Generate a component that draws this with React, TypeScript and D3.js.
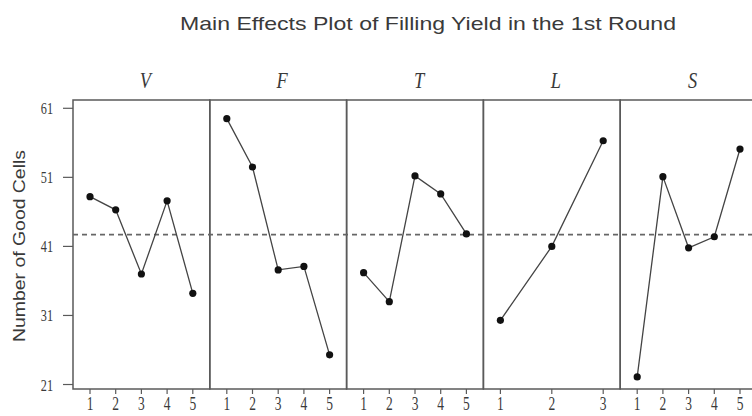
import React from 'react';
import * as d3 from 'd3';

// factors and their level means
const factors = ['V', 'F', 'T', 'L', 'S'];
const vMeans = [48.2, 46.3, 37.0, 47.6, 34.2];
const fMeans = [59.5, 52.5, 37.6, 38.1, 25.3];
const tMeans = [37.2, 33.0, 51.2, 48.6, 42.8];
const lMeans = [30.3, 41.0, 56.3];
const sMeans = [22.1, 51.1, 40.8, 42.4, 55.1];
const grandMean = 42.7;
const yTicks = [21, 31, 41, 51, 61];

const seriesByFactor = [vMeans, fMeans, tMeans, lMeans, sMeans];

const App = () => {
    const width = 752;
    const height = 416;
    const frameLeft = 73;
    const frameRight = 757;
    const frameTop = 100;
    const frameBottom = 389;

    // y scale: ticks 21..61, frame a bit wider than the tick range
    const yScale = d3.scaleLinear().domain([20.35, 62.2]).range([frameBottom, frameTop]);

    // one band per factor panel
    const panelScale = d3.scaleBand().domain(factors).range([frameLeft, frameRight]).paddingInner(0);

    const ink = '#3a3a3a';
    const frameColor = '#5a5a5a';
    const serif = "'Liberation Serif', 'DejaVu Serif', serif";
    const narrow = "'Liberation Sans Narrow', 'Arial Narrow', 'Liberation Sans', sans-serif";

    const panelX = (f, n) => {
        const x0 = panelScale(f);
        const x1 = x0 + panelScale.bandwidth();
        return d3.scaleLinear().domain([1, n]).range([x0 + 17, x1 - 17]);
    };

    return (
        <div style={{ position: 'absolute', left: 0, top: 0 }}>
            <svg width={width} height={height} style={{ display: 'block', background: '#fff' }}>
                {/* title */}
                <text
                    x={428}
                    y={30}
                    textAnchor="middle"
                    fontFamily={narrow}
                    fontSize={19}
                    fill="#3a3a3a"
                    textLength={496}
                    lengthAdjust="spacingAndGlyphs"
                >
                    Main Effects Plot of Filling Yield in the 1st Round
                </text>

                {/* y axis label */}
                <text
                    transform={`translate(25, 246) rotate(-90)`}
                    textAnchor="middle"
                    fontFamily={narrow}
                    fontSize={16}
                    fill="#3a3a3a"
                    textLength={192}
                    lengthAdjust="spacingAndGlyphs"
                >
                    Number of Good Cells
                </text>

                {/* y ticks */}
                {yTicks.map((t) => (
                    <g key={`yt-${t}`}>
                        <line x1={frameLeft - 10} x2={frameLeft} y1={yScale(t)} y2={yScale(t)} stroke={frameColor} strokeWidth={1.2} />
                        <text
                            transform={`translate(${frameLeft - 20}, ${yScale(t) + 6}) scale(0.72, 1)`}
                            textAnchor="end"
                            fontFamily={serif}
                            fontSize={17}
                            fill={ink}
                        >
                            {t}
                        </text>
                    </g>
                ))}

                {/* panels */}
                {factors.map((f, i) => {
                    const x0 = panelScale(f);
                    const x1 = x0 + panelScale.bandwidth();
                    const n = seriesByFactor[i].length;
                    const xScale = panelX(f, n);
                    const levels = d3.range(1, n + 1);
                    return (
                        <g key={`panel-${f}`}>
                            <rect x={x0} y={frameTop} width={x1 - x0} height={frameBottom - frameTop} fill="none" stroke={frameColor} strokeWidth={1.5} />
                            <text
                                transform={`translate(${(x0 + x1) / 2 + 4}, 88) scale(0.8, 1)`}
                                textAnchor="middle"
                                fontFamily={serif}
                                fontStyle="italic"
                                fontSize={23}
                                fill={ink}
                            >
                                {f}
                            </text>
                            {levels.map((lv) => (
                                <g key={`xt-${f}-${lv}`}>
                                    <line x1={xScale(lv)} x2={xScale(lv)} y1={frameBottom} y2={frameBottom + 5} stroke={frameColor} strokeWidth={1.2} />
                                    <text
                                        transform={`translate(${xScale(lv)}, 410) scale(0.75, 1)`}
                                        textAnchor="middle"
                                        fontFamily={serif}
                                        fontSize={18}
                                        fill={ink}
                                    >
                                        {lv}
                                    </text>
                                </g>
                            ))}
                        </g>
                    );
                })}

                {/* grand mean reference line */}
                <line
                    x1={frameLeft}
                    x2={width}
                    y1={yScale(grandMean)}
                    y2={yScale(grandMean)}
                    stroke="#666"
                    strokeWidth={1.6}
                    strokeDasharray="5,4"
                />

                {/* main effect lines and points */}
                {factors.map((f, i) => {
                    const values = seriesByFactor[i];
                    const xScale = panelX(f, values.length);
                    const pts = values.map((v, j) => [j + 1, v]);
                    const path = d3
                        .line()
                        .x((d) => xScale(d[0]))
                        .y((d) => yScale(d[1]))(pts);
                    return (
                        <g key={`series-${f}`}>
                            <path d={path} fill="none" stroke="#444" strokeWidth={1.3} />
                            {pts.map((p, j) => (
                                <circle key={`pt-${f}-${j}`} cx={xScale(p[0])} cy={yScale(p[1])} r={3.6} fill="#111" />
                            ))}
                        </g>
                    );
                })}
            </svg>
        </div>
    );
};

export default App;
